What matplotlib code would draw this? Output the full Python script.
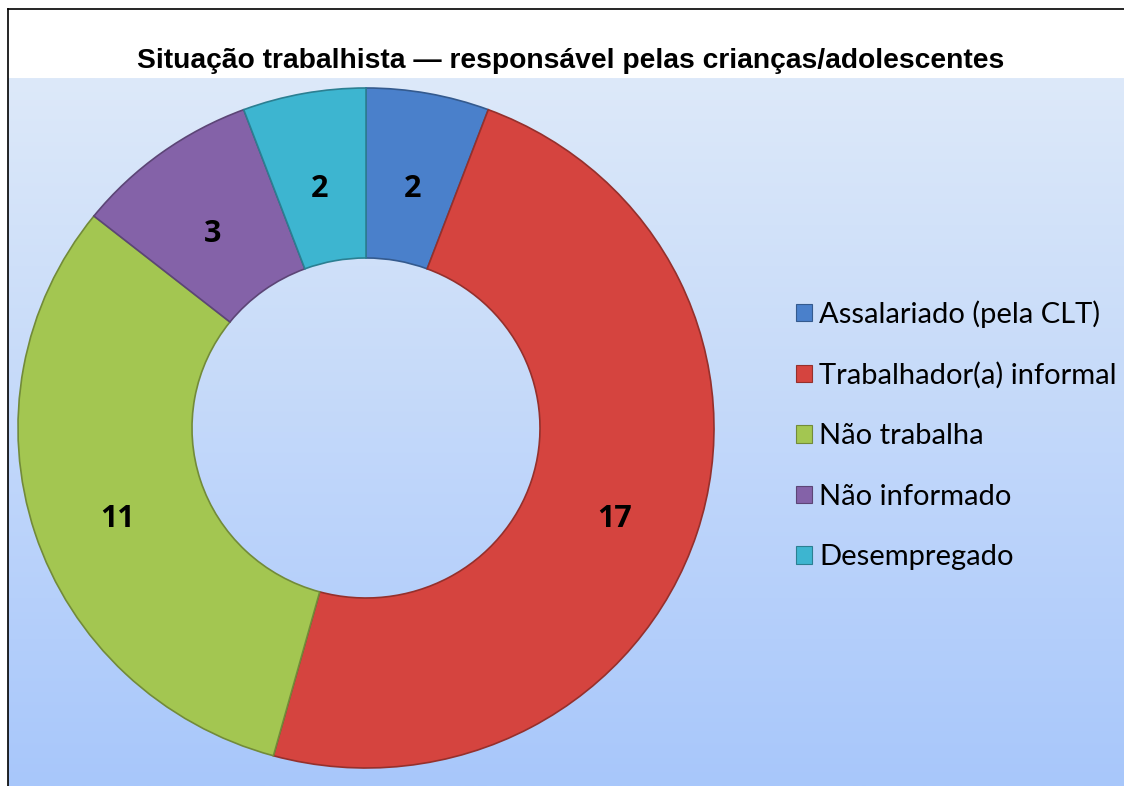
import numpy as np
import matplotlib
matplotlib.use("Agg")
import matplotlib.pyplot as plt
from matplotlib.patches import Patch
from matplotlib.lines import Line2D
import matplotlib.colors as mcolors

title = "Situação trabalhista — responsável pelas crianças/adolescentes"
categories = ["Assalariado (pela CLT)", "Trabalhador(a) informal", "Não trabalha",
              "Não informado", "Desempregado"]
values = [2, 17, 11, 3, 2]
colors = ["#4a80cb", "#d5443f", "#a3c651", "#8462a8", "#3db5d0"]

W, H = 1124, 786
fig = plt.figure(figsize=(W / 100, H / 100), dpi=100)
fig.patch.set_facecolor("white")

def px(x0, y0, w, h):
    return [x0 / W, 1 - (y0 + h) / H, w / W, h / H]

# background gradient of plot area
bg = fig.add_axes(px(8, 78, W - 8, H - 78))
grad = np.linspace(0, 1, 256)[:, None]
cmap = mcolors.LinearSegmentedColormap.from_list("bg", ["#dde9f9", "#a8c7fb"])
bg.imshow(grad, aspect="auto", cmap=cmap, extent=[0, 1, 0, 1], origin="upper")
bg.set_axis_off()

# border lines
fig.add_artist(Line2D([8 / W, 1], [1 - 9 / H, 1 - 9 / H], color="black", lw=1.2))
fig.add_artist(Line2D([8 / W, 8 / W], [0, 1 - 9 / H], color="black", lw=1.2))

# title
fig.text(571 / W, 1 - 61 / H, title, ha="center", va="center",
         fontsize=20.3, fontweight="bold", family="Liberation Sans")

# donut (slightly wider than tall, as in the reference)
cx, cy, Rx, Ry = 366, 428, 348, 340
ax = fig.add_axes(px(cx - Rx, cy - Ry, 2 * Rx, 2 * Ry))
edge = [mcolors.to_hex(np.array(mcolors.to_rgb(c)) * 0.7) for c in colors]
wedges, _ = ax.pie(values, colors=colors, startangle=90, counterclock=False,
                   radius=1.0, wedgeprops=dict(width=0.5, linewidth=1.2),
                   center=(0, 0), frame=False)
for w_, e in zip(wedges, edge):
    w_.set_edgecolor(e)
ax.set_aspect("auto")
ax.set_xlim(-1, 1)
ax.set_ylim(-1, 1)
ax.set_axis_off()

total = sum(values)
ang = 90.0
for v in values:
    mid = ang - 360 * v / total / 2
    ang -= 360 * v / total
    r = 0.75
    ax.text(r * np.cos(np.radians(mid)), r * np.sin(np.radians(mid)) - 0.035, str(v),
            ha="center", va="center", fontsize=22, fontweight="bold",
            family="Open Sans")

# legend
handles = [Patch(facecolor=c, edgecolor=e, linewidth=0.8) for c, e in zip(colors, edge)]
leg = fig.legend(handles, categories, loc="upper left",
                 bbox_to_anchor=(796 / W, 1 - 300 / H), frameon=False,
                 prop=dict(family="Lato", size=21), handlelength=0.55, handleheight=0.55,
                 handletextpad=0.25, labelspacing=1.18, borderaxespad=0, borderpad=0)

fig.savefig("out.png", dpi=100)
